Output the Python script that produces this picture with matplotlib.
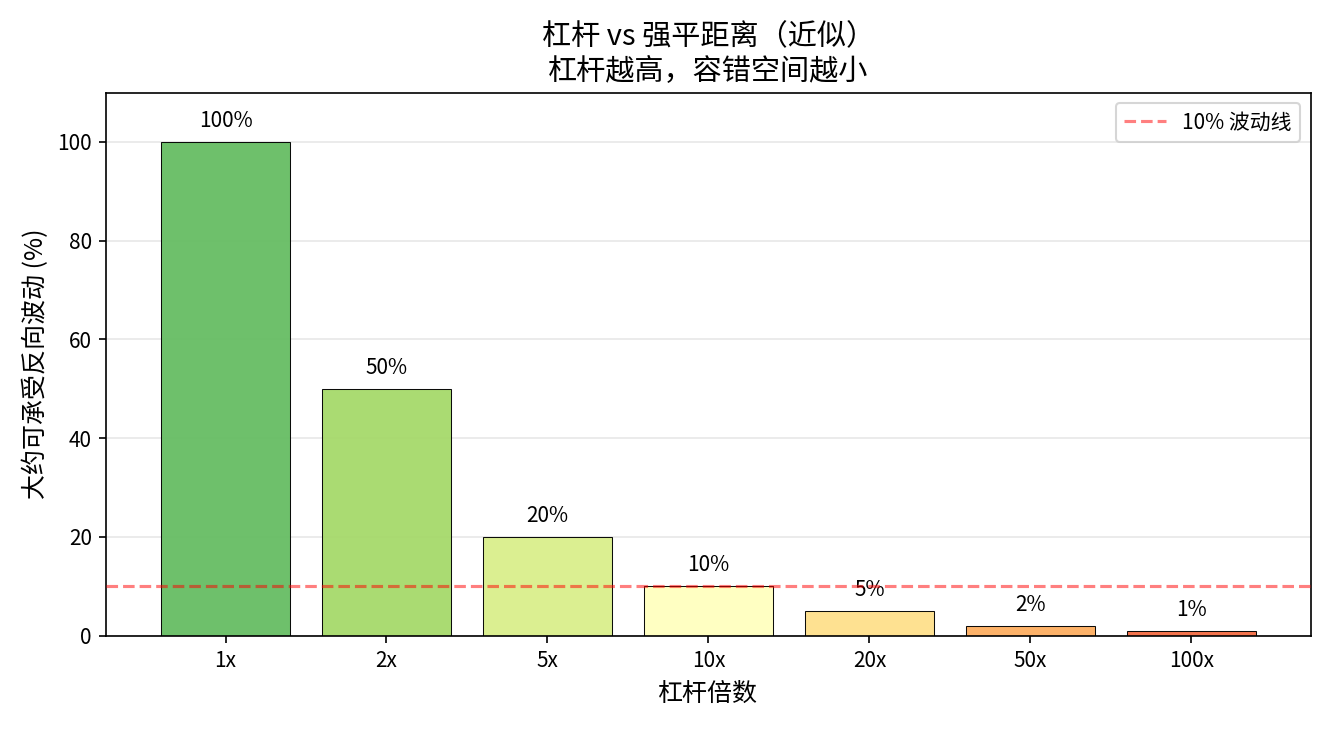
import matplotlib
matplotlib.use("Agg")
import matplotlib.pyplot as plt

plt.rcParams['font.family'] = ['Noto Sans CJK SC', 'DejaVu Sans']

labels = ["1x", "2x", "5x", "10x", "20x", "50x", "100x"]
values = [100, 50, 20, 10, 5, 2, 1]
colors = ["#66bd63", "#a6d96a", "#d9ef8b", "#ffffbf", "#fee08b", "#fdae61", "#f46d43"]

fig, ax = plt.subplots(figsize=(1333/150, 729/150), dpi=150)
x = range(len(labels))
bars = ax.bar(x, values, color=colors, edgecolor="black", linewidth=0.5, alpha=0.95, zorder=2)
for i, v in enumerate(values):
    ax.text(i, v + 2, f"{v}%", ha="center", va="bottom", fontsize=10)
ax.axhline(10, color="red", linestyle="--", alpha=0.5, label="10% 波动线", zorder=3)
ax.set_xticks(list(x))
ax.set_xticklabels(labels)
ax.set_ylim(0, 110)
ax.grid(axis="y", alpha=0.3, zorder=0)
ax.set_xlabel("杠杆倍数", fontsize=12)
ax.set_ylabel("大约可承受反向波动 (%)", fontsize=12)
ax.set_title("杠杆 vs 强平距离（近似）\n杠杆越高，容错空间越小", fontsize=14)
ax.legend(loc="upper right")
fig.tight_layout()
fig.savefig("out.png", dpi=150)
